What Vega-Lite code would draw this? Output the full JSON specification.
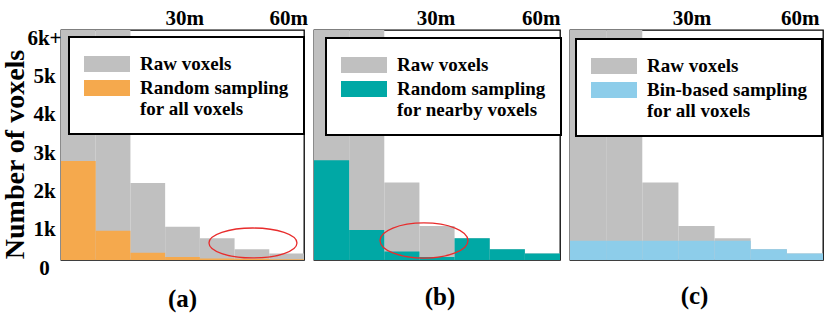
{
  "$schema": "https://vega.github.io/schema/vega-lite/v6.json",
  "background": "white",
  "padding": {"left": 0, "top": 6, "right": 4, "bottom": 0},
  "bounds": "flush",
  "spacing": 10,
  "config": {
    "view": {"stroke": "#000", "strokeWidth": 1.3},
    "font": "Liberation Serif",
    "axis": {"labelFont": "Liberation Serif", "titleFont": "Liberation Serif", "labelColor": "#000", "titleColor": "#000", "labelFontWeight": "bold", "titleFontWeight": "bold", "labelOverlap": false},
    "legend": {
      "padding": 15, "clipHeight": 24, "rowPadding": -3, "labelOffset": 10, "symbolOffset": 0,
      "symbolType": "M -1 -0.35 L 1 -0.35 L 1 0.35 L -1 0.35 Z", "symbolSize": 2116, "symbolStrokeWidth": 0, "symbolOpacity": 1,
      "labelFont": "Liberation Serif", "labelFontSize": 19, "labelFontWeight": "bold", "labelColor": "#000", "labelLimit": 400,
      "strokeColor": "#000", "strokeWidth": 2, "fillColor": "#fff", "cornerRadius": 0
    }
  },
  "datasets": {
    "voxels": [
      {"panel": "a", "series": "Raw voxels", "start": 0, "end": 10, "count": 9000},
      {"panel": "a", "series": "Raw voxels", "start": 10, "end": 20, "count": 6500},
      {"panel": "a", "series": "Raw voxels", "start": 20, "end": 30, "count": 2010},
      {"panel": "a", "series": "Raw voxels", "start": 30, "end": 40, "count": 870},
      {"panel": "a", "series": "Raw voxels", "start": 40, "end": 50, "count": 570},
      {"panel": "a", "series": "Raw voxels", "start": 50, "end": 60, "count": 280},
      {"panel": "a", "series": "Raw voxels", "start": 60, "end": 70, "count": 170},
      {"panel": "a", "series": "Random sampling for all voxels", "start": 0, "end": 10, "count": 2580},
      {"panel": "a", "series": "Random sampling for all voxels", "start": 10, "end": 20, "count": 760},
      {"panel": "a", "series": "Random sampling for all voxels", "start": 20, "end": 30, "count": 190},
      {"panel": "a", "series": "Random sampling for all voxels", "start": 30, "end": 40, "count": 80},
      {"panel": "a", "series": "Random sampling for all voxels", "start": 40, "end": 50, "count": 40},
      {"panel": "a", "series": "Random sampling for all voxels", "start": 50, "end": 60, "count": 30},
      {"panel": "a", "series": "Random sampling for all voxels", "start": 60, "end": 70, "count": 20},
      {"panel": "b", "series": "Raw voxels", "start": 0, "end": 10, "count": 9000},
      {"panel": "b", "series": "Raw voxels", "start": 10, "end": 20, "count": 6500},
      {"panel": "b", "series": "Raw voxels", "start": 20, "end": 30, "count": 2020},
      {"panel": "b", "series": "Raw voxels", "start": 30, "end": 40, "count": 890},
      {"panel": "b", "series": "Raw voxels", "start": 40, "end": 50, "count": 570},
      {"panel": "b", "series": "Raw voxels", "start": 50, "end": 60, "count": 280},
      {"panel": "b", "series": "Raw voxels", "start": 60, "end": 70, "count": 170},
      {"panel": "b", "series": "Random sampling for nearby voxels", "start": 0, "end": 10, "count": 2600},
      {"panel": "b", "series": "Random sampling for nearby voxels", "start": 10, "end": 20, "count": 780},
      {"panel": "b", "series": "Random sampling for nearby voxels", "start": 20, "end": 30, "count": 220},
      {"panel": "b", "series": "Random sampling for nearby voxels", "start": 30, "end": 40, "count": 80},
      {"panel": "b", "series": "Random sampling for nearby voxels", "start": 40, "end": 50, "count": 570},
      {"panel": "b", "series": "Random sampling for nearby voxels", "start": 50, "end": 60, "count": 280},
      {"panel": "b", "series": "Random sampling for nearby voxels", "start": 60, "end": 70, "count": 170},
      {"panel": "c", "series": "Raw voxels", "start": 0, "end": 10, "count": 9000},
      {"panel": "c", "series": "Raw voxels", "start": 10, "end": 20, "count": 6500},
      {"panel": "c", "series": "Raw voxels", "start": 20, "end": 30, "count": 2020},
      {"panel": "c", "series": "Raw voxels", "start": 30, "end": 40, "count": 890},
      {"panel": "c", "series": "Raw voxels", "start": 40, "end": 50, "count": 570},
      {"panel": "c", "series": "Raw voxels", "start": 50, "end": 60, "count": 280},
      {"panel": "c", "series": "Raw voxels", "start": 60, "end": 70, "count": 170},
      {"panel": "c", "series": "Bin-based sampling for all voxels", "start": 0, "end": 10, "count": 500},
      {"panel": "c", "series": "Bin-based sampling for all voxels", "start": 10, "end": 20, "count": 500},
      {"panel": "c", "series": "Bin-based sampling for all voxels", "start": 20, "end": 30, "count": 500},
      {"panel": "c", "series": "Bin-based sampling for all voxels", "start": 30, "end": 40, "count": 500},
      {"panel": "c", "series": "Bin-based sampling for all voxels", "start": 40, "end": 50, "count": 500},
      {"panel": "c", "series": "Bin-based sampling for all voxels", "start": 50, "end": 60, "count": 280},
      {"panel": "c", "series": "Bin-based sampling for all voxels", "start": 60, "end": 70, "count": 170}
    ]
  },
  "resolve": {"scale": {"color": "independent", "x": "independent", "y": "independent"}, "legend": {"color": "independent"}},
  "hconcat": [
    {
      "width": 243, "height": 230,
      "title": {"text": "(a)", "orient": "bottom", "anchor": "middle", "frame": "group", "offset": 9, "baseline": "top", "fontSize": 25, "fontWeight": "bold", "font": "Liberation Serif", "color": "#000"},
      "layer": [
        {
          "data": {"name": "voxels"},
          "transform": [{"filter": "datum.panel == 'a'"}],
          "mark": {"type": "bar", "clip": true, "strokeWidth": 0},
          "encoding": {
            "x": {"field": "start", "type": "quantitative", "scale": {"domain": [0, 70], "nice": false, "zero": false},
              "axis": {"orient": "top", "values": [30, 60], "labelExpr": "datum.value + 'm'", "ticks": false, "tickSize": 0, "domain": false, "grid": false, "title": null, "labelFontSize": 21, "labelPadding": 6, "labelBaseline": "alphabetic", "labelOffset": 19, "labelFlush": false}},
            "x2": {"field": "end"},
            "y": {"field": "count", "type": "quantitative", "stack": null, "scale": {"domain": [0, 6000], "nice": false},
              "axis": {"values": [0, 1000, 2000, 3000, 4000, 5000, 6000], "labelExpr": "datum.value == 6000 ? '6k+' : datum.value == 0 ? '0' : (datum.value / 1000) + 'k'", "ticks": false, "tickSize": 0, "domain": false, "grid": false, "labelAlign": "center", "labelPadding": 17, "labelOffset": 8, "labelFontSize": 21, "labelOverlap": false, "title": "Number of voxels", "titleFontSize": 28, "titleX": -38, "titleY": 124, "titleBaseline": "alphabetic", "titleAngle": 270, "titleAlign": "center"}},
            "y2": {"datum": 0},
            "color": {"field": "series", "type": "nominal",
              "scale": {"domain": ["Raw voxels", "Random sampling for all voxels"], "range": ["#c0c0c0", "#f5a94d"]},
              "legend": {"title": null, "orient": "none", "legendX": 8, "legendY": 7, "direction": "vertical",
                "labelExpr": "indexof(datum.label, ' for ') > 0 ? [slice(datum.label, 0, indexof(datum.label, ' for ')), slice(datum.label, indexof(datum.label, ' for ') + 1)] : datum.label"}}
          }
        },
        {
          "data": {"values": [{"note": "highlight"}]},
          "mark": {"type": "point", "shape": "M -1 0 A 1 0.34 0 1 0 1 0 A 1 0.34 0 1 0 -1 0 Z", "size": 7744, "filled": false, "stroke": "#e82c2c", "strokeWidth": 1.3, "opacity": 1},
          "encoding": {
            "x": {"datum": 55.3, "type": "quantitative", "scale": {"domain": [0, 70], "nice": false, "zero": false},
              "axis": {"orient": "top", "values": [30, 60], "labelExpr": "datum.value + 'm'", "ticks": false, "tickSize": 0, "domain": false, "grid": false, "title": null, "labelFontSize": 21, "labelPadding": 6, "labelBaseline": "alphabetic", "labelOffset": 19, "labelFlush": false}},
            "y": {"datum": 444, "type": "quantitative", "scale": {"domain": [0, 6000], "nice": false},
              "axis": {"values": [0, 1000, 2000, 3000, 4000, 5000, 6000], "labelExpr": "datum.value == 6000 ? '6k+' : datum.value == 0 ? '0' : (datum.value / 1000) + 'k'", "ticks": false, "tickSize": 0, "domain": false, "grid": false, "labelAlign": "center", "labelPadding": 17, "labelOffset": 8, "labelFontSize": 21, "labelOverlap": false, "title": "Number of voxels", "titleFontSize": 28, "titleX": -38, "titleY": 124, "titleBaseline": "alphabetic", "titleAngle": 270, "titleAlign": "center"}}
          }
        }
      ]
    },
    {
      "width": 246, "height": 230,
      "title": {"text": "(b)", "orient": "bottom", "anchor": "middle", "frame": "group", "offset": 24, "baseline": "top", "fontSize": 25, "fontWeight": "bold", "font": "Liberation Serif", "color": "#000", "dx": 3},
      "layer": [
        {
          "data": {"name": "voxels"},
          "transform": [{"filter": "datum.panel == 'b'"}],
          "mark": {"type": "bar", "clip": true, "strokeWidth": 0},
          "encoding": {
            "x": {"field": "start", "type": "quantitative", "scale": {"domain": [0, 70], "nice": false, "zero": false},
              "axis": {"orient": "top", "values": [30, 60], "labelExpr": "datum.value + 'm'", "ticks": false, "tickSize": 0, "domain": false, "grid": false, "title": null, "labelFontSize": 21, "labelPadding": 6, "labelBaseline": "alphabetic", "labelOffset": 16, "labelFlush": false}},
            "x2": {"field": "end"},
            "y": {"field": "count", "type": "quantitative", "stack": null, "scale": {"domain": [0, 6000], "nice": false}, "axis": null},
            "y2": {"datum": 0},
            "color": {"field": "series", "type": "nominal",
              "scale": {"domain": ["Raw voxels", "Random sampling for nearby voxels"], "range": ["#c0c0c0", "#00a8a5"]},
              "legend": {"title": null, "orient": "none", "legendX": 12, "legendY": 8, "direction": "vertical",
                "labelExpr": "indexof(datum.label, ' for ') > 0 ? [slice(datum.label, 0, indexof(datum.label, ' for ')), slice(datum.label, indexof(datum.label, ' for ') + 1)] : datum.label"}}
          }
        },
        {
          "data": {"values": [{"note": "highlight"}]},
          "mark": {"type": "point", "shape": "M -1 0 A 1 0.4 0 1 0 1 0 A 1 0.4 0 1 0 -1 0 Z", "size": 7744, "filled": false, "stroke": "#e82c2c", "strokeWidth": 1.3, "opacity": 1},
          "encoding": {
            "x": {"datum": 31.3, "type": "quantitative", "scale": {"domain": [0, 70], "nice": false, "zero": false},
              "axis": {"orient": "top", "values": [30, 60], "labelExpr": "datum.value + 'm'", "ticks": false, "tickSize": 0, "domain": false, "grid": false, "title": null, "labelFontSize": 21, "labelPadding": 6, "labelBaseline": "alphabetic", "labelOffset": 16, "labelFlush": false}},
            "y": {"datum": 509, "type": "quantitative", "scale": {"domain": [0, 6000], "nice": false}, "axis": null}
          }
        }
      ]
    },
    {
      "width": 253, "height": 230,
      "title": {"text": "(c)", "orient": "bottom", "anchor": "middle", "frame": "group", "offset": 24, "baseline": "top", "fontSize": 25, "fontWeight": "bold", "font": "Liberation Serif", "color": "#000", "dx": -2},
      "layer": [
        {
          "data": {"name": "voxels"},
          "transform": [{"filter": "datum.panel == 'c'"}],
          "mark": {"type": "bar", "clip": true, "strokeWidth": 0},
          "encoding": {
            "x": {"field": "start", "type": "quantitative", "scale": {"domain": [0, 70], "nice": false, "zero": false},
              "axis": {"orient": "top", "values": [30, 60], "labelExpr": "datum.value + 'm'", "ticks": false, "tickSize": 0, "domain": false, "grid": false, "title": null, "labelFontSize": 21, "labelPadding": 6, "labelBaseline": "alphabetic", "labelOffset": 13, "labelFlush": false}},
            "x2": {"field": "end"},
            "y": {"field": "count", "type": "quantitative", "stack": null, "scale": {"domain": [0, 6000], "nice": false}, "axis": null},
            "y2": {"datum": 0},
            "color": {"field": "series", "type": "nominal",
              "scale": {"domain": ["Raw voxels", "Bin-based sampling for all voxels"], "range": ["#c0c0c0", "#8dcdea"]},
              "legend": {"title": null, "orient": "none", "legendX": 6, "legendY": 9, "direction": "vertical",
                "labelExpr": "indexof(datum.label, ' for ') > 0 ? [slice(datum.label, 0, indexof(datum.label, ' for ')), slice(datum.label, indexof(datum.label, ' for ') + 1)] : datum.label"}}
          }
        }
      ]
    }
  ]
}
